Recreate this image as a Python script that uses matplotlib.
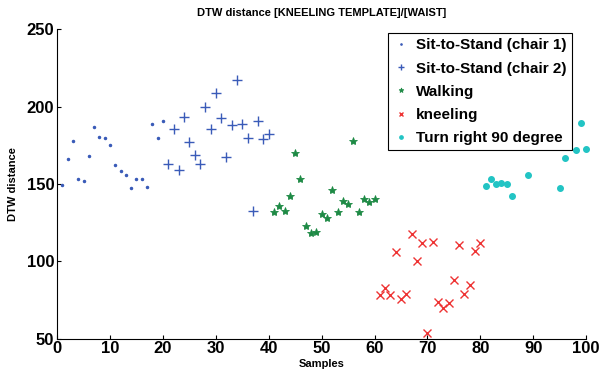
import numpy as np
import matplotlib
matplotlib.use("Agg")
import matplotlib.pyplot as plt

plt.rcParams['font.family'] = ['Liberation Sans Narrow', 'Liberation Sans', 'DejaVu Sans']

# values
x_chair1 = list(range(1, 21))
y_chair1 = [149.5, 166, 178, 153, 152, 168, 186.6, 180.6, 179.5, 175,
            162.5, 158.4, 156, 147.4, 153.4, 153, 148.3, 188.8, 179.5, 190.7]

x_chair2 = list(range(21, 41))
y_chair2 = [163, 185.4, 158.8, 193.5, 177, 168.5, 163, 199.6, 185.8, 208.8,
            192.7, 167.7, 188, 217, 188.6, 180, 132.7, 190.5, 179, 182.5]

x_walk = list(range(41, 61))
y_walk = [131.7, 136, 132.5, 142.2, 170.3, 153.3, 122.5, 118.1, 118.8, 130.4,
          128, 146, 131.9, 139.2, 137, 177.8, 131.7, 140.1, 138.6, 140.3]

x_kneel = list(range(61, 81))
y_kneel = [78.4, 82.8, 78, 106.2, 75.4, 79, 117.7, 100, 111.7, 53.5,
           112.5, 73.9, 70, 73.3, 87.6, 110.3, 79, 84.5, 106.5, 111.7]

x_turn = [81, 82, 83, 84, 85, 86, 89, 95, 96, 98, 99, 100]
y_turn = [148.5, 153.4, 150, 150.9, 150, 142.4, 155.8, 147.2, 166.6, 172, 189.7, 172.6]

labels = ["Sit-to-Stand (chair 1)", "Sit-to-Stand (chair 2)", "Walking",
          "kneeling", "Turn right 90 degree"]

blue = "#3a5bb8"
green = "#1e8a45"
red = "#ee3333"
cyan = "#22c4c4"

fig = plt.figure(figsize=(6.08, 3.77), dpi=100)
ax = fig.add_axes([0.094, 0.102, 0.870, 0.820])

ax.plot(x_chair1, y_chair1, ls="none", marker=".", ms=3, color=blue, label=labels[0], clip_on=False)
ax.plot(x_chair2, y_chair2, ls="none", marker="+", ms=7, mew=1.0, color=blue, label=labels[1], clip_on=False)
ax.plot(x_walk, y_walk, ls="none", marker="*", ms=6, mew=0.6, color=green, label=labels[2], clip_on=False)
ax.plot(x_kneel, y_kneel, ls="none", marker="x", ms=6, mew=1.0, color=red, label=labels[3], clip_on=False)
ax.plot(x_turn, y_turn, ls="none", marker="o", ms=4, color=cyan, label=labels[4], clip_on=False)

ax.set_xlim(0, 100)
ax.set_ylim(50, 250)
ax.set_xticks(range(0, 101, 10))
ax.set_yticks(range(50, 251, 50))
ax.spines["top"].set_visible(False)
ax.spines["right"].set_visible(False)
ax.tick_params(direction="in", length=3, labelsize=12, pad=2)
for lab in ax.get_xticklabels() + ax.get_yticklabels():
    lab.set_fontweight("bold")

ax.set_title("DTW distance [KNEELING TEMPLATE]/[WAIST]", fontsize=8, fontweight="bold", pad=10)
ax.set_xlabel("Samples", fontsize=8, fontweight="bold", labelpad=2)
ax.set_ylabel("DTW distance", fontsize=8, fontweight="bold", labelpad=6)

leg = ax.legend(loc="upper right", bbox_to_anchor=(0.973, 0.988), borderaxespad=0,
                fancybox=False, framealpha=1, edgecolor="black", handlelength=1,
                handletextpad=0.5, labelspacing=0.6, markerscale=0.6,
                borderpad=0.35, prop={"weight": "bold", "size": 11})
leg.get_frame().set_linewidth(0.8)

fig.savefig("out.png", dpi=100)
